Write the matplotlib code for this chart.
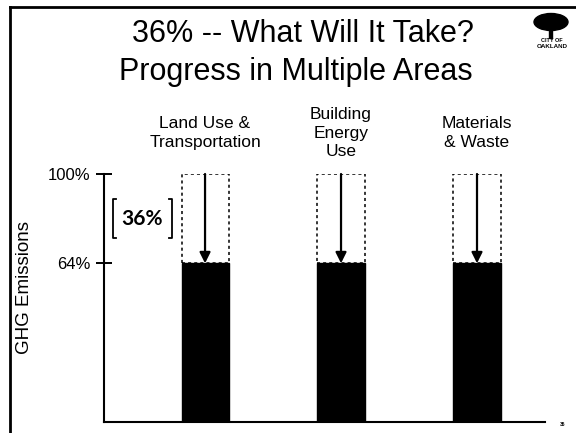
import matplotlib.pyplot as plt
from matplotlib.lines import Line2D
from matplotlib.patches import Ellipse, Rectangle

plt.rcParams['font.family'] = ['Liberation Sans', 'DejaVu Sans']

# Данні
categories = ["Land Use &\nTransportation", "Building\nEnergy\nUse", "Materials\n& Waste"]
baseline = [100, 100, 100]
target = [64, 64, 64]
y_ticks = [64, 100]
y_tick_labels = ["64%", "100%"]
title_lines = ["36% -- What Will It Take?", "Progress in Multiple Areas"]

W, H = 576, 433
fig = plt.figure(figsize=(5.76, 4.33), dpi=100)
ax = fig.add_axes([104 / W, (H - 422) / H, (545 - 104) / W, (422 - 174) / H])

x = list(range(len(categories)))
bw = 0.346

# чорні стовпчики (ціль) та пунктирні рамки (базовий рівень)
ax.bar(x, target, width=bw, color='black', edgecolor='black', zorder=2)
ax.bar(x, [b - t for b, t in zip(baseline, target)], bottom=target, width=bw,
       fill=False, edgecolor='black', linestyle=(0, (2, 2)), linewidth=1.1, zorder=2)

for xi, b, t in zip(x, baseline, target):
    ax.annotate("", xy=(xi, t), xytext=(xi, b),
                arrowprops=dict(arrowstyle='-|>', color='black', lw=1.6,
                                mutation_scale=16, shrinkA=0, shrinkB=0), zorder=3)

for xi, lab in zip(x, categories):
    ax.text(xi, 116.5, lab, ha='center', va='center', fontsize=12.5,
            linespacing=1.3, clip_on=False)

# дужка з відсотком скорочення
reduction = baseline[0] - target[0]
mid = (baseline[0] + target[0]) / 2
bx0, bx1, bh, stub = -0.677, -0.243, 7.8, 0.025
for bx, s in [(bx0, stub), (bx1, -stub)]:
    ax.plot([bx + s, bx, bx, bx + s], [mid + bh, mid + bh, mid - bh, mid - bh],
            color='black', lw=1.3, clip_on=False)
ax.text((bx0 + bx1) / 2, mid, f"{reduction}%", ha='center', va='center',
        fontsize=15, fontweight='bold', family=['Lato', 'DejaVu Sans'])

ax.set_xlim(-0.743, 2.5)
ax.set_ylim(0, 100)
ax.set_xticks([])
ax.set_yticks(y_ticks)
ax.set_yticklabels(y_tick_labels, fontsize=12)
ax.tick_params(axis='y', direction='inout', length=12, width=1.4, pad=4)
for s in ['top', 'right']:
    ax.spines[s].set_visible(False)
for s in ['left', 'bottom']:
    ax.spines[s].set_linewidth(1.5)
ax.set_ylabel("GHG Emissions", fontsize=13.5)
ax.yaxis.set_label_coords(-0.161, 0.544)

# заголовок
fig.text(303 / W, 1 - 42 / H, title_lines[0], ha='center', va='baseline', fontsize=22)
fig.text(296 / W, 1 - 80 / H, title_lines[1], ha='center', va='baseline', fontsize=22)

# рамка слайда
fig.add_artist(Line2D([10 / W, 1], [1 - 7 / H, 1 - 7 / H], color='black', lw=2))
fig.add_artist(Line2D([10 / W, 10 / W], [0, 1 - 7 / H], color='black', lw=2))

# логотип
fig.add_artist(Ellipse((551 / W, 1 - 22 / H), 34 / W, 17 / H, color='black'))
fig.add_artist(Rectangle((549 / W, 1 - 38 / H), 3 / W, 10 / H, color='black'))
fig.text(552 / W, 1 - 41 / H, "CITY OF", ha='center', va='center', fontsize=4, fontweight='bold')
fig.text(552 / W, 1 - 46 / H, "OAKLAND", ha='center', va='center', fontsize=4.5, fontweight='bold')
fig.text(563 / W, 1 - 425 / H, "36", ha='center', va='center', fontsize=3.5, fontweight='bold')

fig.savefig("out.png", dpi=100)
